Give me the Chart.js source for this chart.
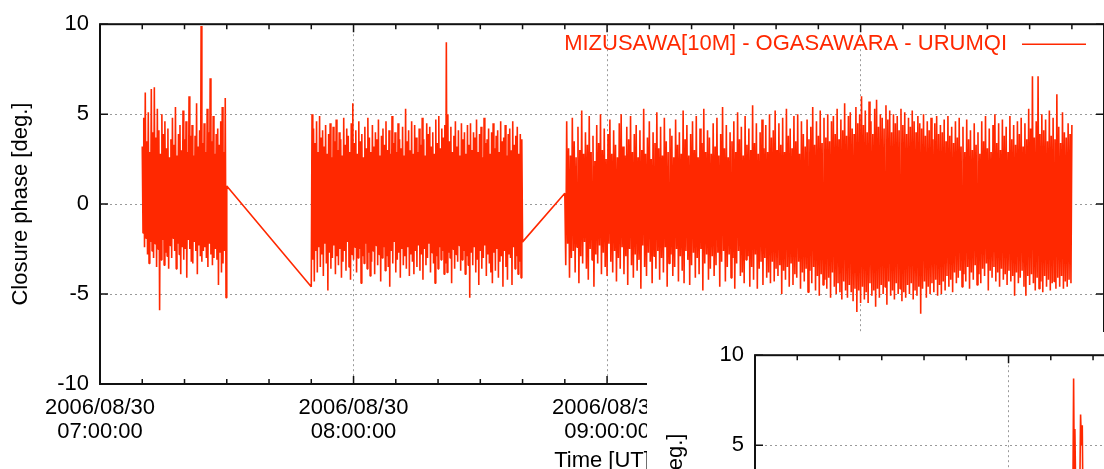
<!DOCTYPE html>
<html>
<head>
<meta charset="utf-8">
<script src="https://cdn.jsdelivr.net/npm/chart.js@4.4.1/dist/chart.umd.min.js"></script>
<style>
  html, body { margin: 0; padding: 0; background: #fff; }
  #wrap { position: relative; width: 1104px; height: 469px; overflow: hidden; }
  #inset { position: absolute; left: 647px; top: 332px; width: 457px; height: 137px; overflow: hidden; background: #fff; }
  #inset canvas { position: absolute; left: 8px; top: -1px; }
</style>
</head>
<body>
<div id="wrap">
  <canvas id="mainChart" width="1104" height="469"></canvas>
  <div id="inset"><canvas id="insetChart" width="1104" height="469"></canvas></div>
</div>
<script>
const seriesLabel = 'MIZUSAWA[10M] - OGASAWARA - URUMQI';
const dateLabel = '2006/08/30';
const hourLabels = ['07:00:00', '08:00:00', '09:00:00', '10:00:00'];
const yTicks = [-10, -5, 0, 5, 10];

// scans: [start, end] in minutes after 07:00 UT, phase samples evenly spaced in between
const scan1 = [10, 30];
const scan1Phase = [
  3.2, -1.6, 4.8, -2.4, 6.2, -1.9, 3.5, -2.8, 5.1, -3.3, 2.9, -2.1, 6.4, -2.6, 4.0, -3.0, 6.5, -2.2, 3.7, -3.5,
  5.3, -2.5, 4.1, -5.9, 2.8, -3.1, 5.0, -2.0, 3.9, -3.4, 4.6, -2.7, 3.1, -2.9, 4.2, -3.6, 2.6, -2.3, 3.6, -3.0,
  4.8, -1.9, 3.3, -2.6, 5.4, -3.6, 2.7, -2.2, 3.9, -2.8, 4.4, -3.9, 3.0, -2.4, 5.2, -3.1, 3.6, -2.5, 4.6, -4.1,
  2.9, -2.0, 6.0, -2.5, 3.8, -3.2, 4.4, -3.3, 2.7, -2.1, 3.8, -2.6, 5.6, -3.9, 3.2, -2.3, 4.1, -2.9, 9.9, -3.2,
  3.4, -2.6, 4.5, -2.4, 2.9, -3.0, 5.3, -3.5, 4.0, -2.2, 7.0, -2.8, 3.5, -3.4, 4.9, -3.0, 2.8, -2.5, 3.9, -3.1,
  4.2, -4.5, 3.3, -2.7, 4.6, -3.8, 5.4, -3.3, 2.9, -2.6, 5.9, -5.2, 1.0
];

const scan2 = [50, 100];
const scan2Phase = [
  -4.6, 5.0, -3.1, 4.2, -4.3, 3.4, -2.6, 4.6, -3.8, 2.9, -2.4, 4.9, -3.5, 3.7, -2.8, 4.1, -4.0, 3.2, -2.2, 4.4,
  -3.3, 2.8, -4.8, 3.9, -2.7, 4.5, -3.6, 2.6, -3.0, 4.3, -2.3, 3.5, -3.9, 4.7, -2.9, 3.0, -3.4, 4.0, -2.5, 3.6,
  -4.1, 2.7, -3.2, 4.8, -2.6, 3.3, -3.7, 4.2, -2.1, 3.8, -3.5, 2.9, -4.2, 4.5, -2.8, 5.6, -3.1, 3.4, -2.4, 4.1,
  -3.8, 2.8, -3.0, 4.6, -2.5, 3.5, -4.4, 3.9, -2.9, 2.6, -3.3, 4.3, -2.2, 3.1, -3.6, 4.8, -2.7, 3.7, -4.0, 2.9,
  -3.2, 4.4, -2.6, 3.2, -3.9, 4.0, -2.3, 3.6, -3.4, 4.7, -2.8, 2.7, -4.3, 3.8, -3.0, 4.2, -2.4, 3.3, -3.7, 4.6,
  -2.9, 3.0, -3.5, 4.1, -4.6, 2.8, -2.6, 4.9, -3.3, 3.4, -2.1, 4.0, -3.8, 2.9, -3.1, 4.5, -2.7, 3.6, -4.1, 3.1,
  -2.5, 4.3, -3.4, 2.7, -2.9, 5.3, -3.6, 3.5, -2.4, 4.1, -4.0, 3.0, -2.8, 4.6, -3.2, 2.8, -3.9, 4.4, -2.6, 3.7,
  -3.5, 2.9, -2.3, 4.2, -3.7, 3.3, -2.8, 4.8, -4.2, 3.6, -2.5, 2.7, -3.4, 4.5, -3.0, 3.9, -2.2, 4.3, -3.8, 3.2,
  -2.7, 4.0, -3.3, 2.8, -4.4, 4.7, -2.9, 3.4, -3.6, 4.9, -2.4, 3.1, -3.1, 4.2, -2.6, 3.7, -3.9, 4.4, -3.3, 9.0,
  -3.8, 5.0, -2.7, 3.5, -3.0, 4.3, -4.4, 2.9, -2.5, 3.8, -3.6, 4.6, -2.8, 3.2, -3.2, 4.1, -2.3, 2.7, -3.7, 4.5,
  -3.1, 3.6, -2.6, 4.0, -3.9, 2.8, -2.9, 4.4, -3.4, 3.3, -5.2, 4.5, -2.7, 3.0, -3.4, 4.0, -2.4, 3.7, -3.8, 4.7,
  -3.1, 2.9, -4.5, 3.9, -2.6, 4.3, -3.6, 2.6, -3.0, 4.8, -2.3, 3.4, -4.0, 3.6, -2.8, 4.2, -3.3, 2.8, -3.8, 4.0,
  -4.4, 4.5, -2.7, 3.1, -3.7, 3.8, -2.5, 4.1, -4.1, 2.9, -3.2, 4.6, -2.9, 3.5, -4.6, 3.7, -2.6, 4.4, -3.5, 2.7,
  -4.2, 3.9, -2.8, 4.2, -3.0, 3.0, -4.5, 4.6, -2.4, 3.3, -3.6, 3.8, -2.9, 4.3, -3.9, 2.8, -3.2, 3.9, -4.1, 3.6,
  -2.1
];

const scan3 = [110, 230];
const scan3Phase = [
  0.6, -3.4, 4.6, -2.2, 3.1, -4.1, 2.7, -3.0, 4.8, -2.6, 3.5, -3.8, 2.6, -2.4, 4.3, -4.4, 3.0, -2.9, 5.2, -3.3,
  2.8, -2.1, 4.0, -3.6, 3.3, -4.2, 4.9, -2.5, 2.9, -3.1, 3.8, -4.6, 2.4, -2.8, 4.4, -3.3, 3.4, -2.3, 5.0, -3.9,
  3.0, -2.7, 4.2, -3.5, 2.5, -4.0, 3.9, -2.2, 4.7, -3.2, 2.8, -3.8, 4.1, -2.6, 3.3, -4.3, 2.6, -3.0, 4.5, -3.6,
  5.0, -2.4, 3.2, -3.9, 2.7, -2.9, 4.3, -4.5, 3.6, -2.5, 4.9, -3.4, 2.9, -4.1, 3.9, -2.8, 4.4, -3.7, 2.6, -3.1,
  4.1, -4.7, 3.0, -2.3, 5.3, -3.5, 2.8, -4.0, 3.7, -2.7, 4.6, -3.2, 2.5, -4.4, 4.0, -2.9, 3.4, -3.6, 5.1, -2.6,
  3.1, -4.2, 4.3, -3.0, 2.7, -3.8, 4.8, -2.4, 3.5, -4.6, 2.9, -3.3, 4.2, -2.8, 3.8, -4.0, 2.6, -3.5, 4.7, -2.5,
  3.3, -4.3, 4.0, -2.9, 2.8, -3.7, 5.2, -4.4, 3.6, -2.6, 4.4, -3.1, 2.7, -4.5, 3.9, -3.4, 4.6, -2.7, 3.0, -4.1,
  4.9, -3.0, 2.6, -3.9, 4.2, -2.5, 3.4, -4.8, 5.3, -3.3, 2.9, -2.8, 4.1, -4.2, 3.7, -3.6, 2.8, -2.9, 4.5, -4.0,
  3.2, -3.4, 4.8, -2.7, 2.7, -4.6, 3.9, -3.2, 5.4, -2.6, 3.1, -4.3, 4.4, -3.5, 2.6, -2.8, 4.0, -4.1, 3.5, -3.0,
  4.6, -4.7, 2.9, -3.3, 5.1, -2.6, 3.6, -4.0, 4.3, -3.8, 2.7, -4.4, 4.9, -3.1, 3.3, -2.9, 4.2, -4.6, 3.0, -3.5,
  5.5, -4.2, 3.4, -2.8, 4.5, -4.7, 2.8, -3.6, 4.0, -3.2, 4.7, -4.5, 3.1, -3.0, 4.4, -4.1, 2.9, -3.8, 5.0, -4.4,
  3.7, -3.2, 4.1, -4.3, 5.2, -3.6, 3.0, -4.0, 4.5, -3.4, 3.3, -5.0, 4.8, -3.7, 2.9, -4.2, 5.3, -3.5, 3.8, -4.6,
  4.2, -3.3, 3.1, -4.5, 4.9, -3.9, 3.5, -4.1, 5.0, -3.2, 2.8, -4.7, 4.6, -3.8, 3.9, -4.3, 3.2, -3.6, 4.7, -4.9,
  3.6, -3.7, 4.3, -4.4, 5.4, -3.5, 3.3, -4.8, 4.6, -4.0, 3.8, -5.1, 5.2, -3.9, 3.4, -4.5, 4.8, -4.2, 3.7, -4.7,
  5.0, -4.1, 3.5, -5.2, 4.6, -3.8, 4.9, -4.6, 3.9, -5.0, 5.3, -4.4, 3.6, -4.9, 4.7, -5.3, 4.1, -4.3, 5.6, -4.8,
  3.8, -5.2, 4.9, -4.5, 5.1, -4.9, 4.2, -5.4, 3.9, -4.7, 5.4, -6.0, 4.5, -4.8, 5.0, -5.5, 6.0, -4.6, 4.4, -5.3,
  5.2, -4.9, 4.0, -5.5, 5.7, -4.4, 4.6, -5.1, 3.9, -4.8, 5.3, -5.7, 5.8, -4.7, 4.3, -5.2, 5.0, -4.5, 4.8, -5.0,
  4.2, -4.6, 5.5, -5.6, 4.7, -4.3, 5.2, -5.1, 4.0, -4.8, 5.0, -5.3, 4.5, -4.4, 4.9, -5.0, 4.1, -4.7, 5.3, -5.4,
  4.4, -4.9, 5.1, -5.2, 3.9, -4.5, 4.8, -5.0, 4.3, -4.4, 5.2, -5.3, 4.6, -4.8, 4.0, -5.1, 4.9, -4.6, 4.5, -6.1,
  4.2, -4.7, 5.0, -4.3, 3.8, -5.2, 4.6, -4.6, 4.1, -5.0, 4.8, -4.4, 3.6, -4.9, 4.5, -4.2, 4.9, -5.1, 3.9, -4.5,
  4.4, -5.0, 4.0, -4.3, 4.7, -4.8, 3.5, -4.0, 4.9, -4.6, 3.8, -4.2, 4.3, -4.9, 3.4, -3.8, 4.6, -4.4, 3.7, -4.1,
  4.8, -3.7, 3.2, -4.6, 4.3, -3.9, 2.9, -4.3, 4.7, -3.5, 3.6, -4.7, 4.1, -3.8, 3.0, -4.2, 4.5, -3.4, 3.3, -4.5,
  4.0, -3.9, 2.8, -4.4, 4.6, -3.6, 3.5, -4.0, 4.9, -3.3, 3.1, -4.8, 4.2, -3.7, 2.9, -4.1, 4.4, -3.5, 5.0, -4.3,
  3.4, -3.8, 4.5, -4.6, 3.0, -3.6, 4.7, -4.2, 3.8, -3.9, 4.3, -4.5, 2.9, -3.7, 4.9, -4.3, 3.6, -4.0, 4.4, -5.1,
  3.3, -3.8, 4.6, -4.4, 3.9, -4.1, 4.8, -3.7, 3.2, -4.6, 4.5, -5.1, 3.6, -4.0, 5.3, -4.5, 4.2, -3.9, 7.1, -4.4,
  3.7, -4.8, 4.6, -4.1, 7.1, -4.7, 3.9, -4.3, 5.0, -4.9, 4.1, -4.0, 4.7, -4.6, 3.5, -4.2, 5.2, -4.8, 3.8, -4.4,
  4.8, -4.3, 3.6, -4.7, 6.1, -4.1, 4.3, -4.6, 3.4, -4.0, 5.1, -4.7, 4.0, -4.3, 3.7, -4.6, 4.5, -4.2, 3.9, -4.4,
  4.4
];

// the second plot peeking in at the lower right corner
const insetTimes = [75.2, 75.4, 75.55, 75.7, 75.85, 76.9, 77.05, 77.25, 77.45, 77.65];
const insetPhase = [1.0, 8.7, 3.3, 5.9, 3.3, 3.3, 6.7, 5.0, 6.1, 0.5];

const red = 'rgb(255, 40, 0)';
const gridGray = '#9a9a9a';
const fontFamily = '"Liberation Sans", Arial, sans-serif';

Chart.defaults.font.family = fontFamily;
Chart.defaults.font.size = 22;
Chart.defaults.color = '#000';

function scanPoints(range, phase) {
  const step = (range[1] - range[0]) / (phase.length - 1);
  return phase.map((p, i) => ({x: range[0] + i * step, y: p}));
}

const mainPoints = [].concat(
  scanPoints(scan1, scan1Phase),
  scanPoints(scan2, scan2Phase),
  scanPoints(scan3, scan3Phase)
);
const insetPoints = insetTimes.map((t, i) => ({x: t, y: insetPhase[i]}));

// gnuplot style border, inward ticks and key
const gnuplotFrame = {
  id: 'gnuplotFrame',
  afterDatasetsDraw(chart, args, opts) {
    const {ctx, chartArea: a, scales: {x, y}} = chart;
    ctx.save();
    ctx.strokeStyle = '#111';
    ctx.lineWidth = 1.5;
    ctx.beginPath();
    x.ticks.forEach(t => {
      const px = x.getPixelForValue(t.value);
      const len = t.value % 60 === 0 ? 8 : 5;
      ctx.moveTo(px, a.bottom);
      ctx.lineTo(px, a.bottom - len);
      ctx.moveTo(px, a.top);
      ctx.lineTo(px, a.top + len);
    });
    y.ticks.forEach(t => {
      const py = y.getPixelForValue(t.value);
      ctx.moveTo(a.left, py);
      ctx.lineTo(a.left + 8, py);
      ctx.moveTo(a.right, py);
      ctx.lineTo(a.right - 8, py);
    });
    ctx.stroke();
    ctx.lineWidth = 2;
    ctx.strokeRect(a.left, a.top, a.right - a.left, a.bottom - a.top);

    if (opts.key) {
      const ds = chart.data.datasets[0];
      const ky = a.top + 20;
      ctx.fillStyle = ds.borderColor;
      ctx.font = '22px ' + fontFamily;
      ctx.textAlign = 'right';
      ctx.textBaseline = 'middle';
      ctx.fillText(ds.label, a.right - 97, ky);
      ctx.strokeStyle = ds.borderColor;
      ctx.lineWidth = 1.5;
      ctx.beginPath();
      ctx.moveTo(a.right - 82, ky);
      ctx.lineTo(a.right - 18, ky);
      ctx.stroke();
    }
    ctx.restore();
  }
};

function makeChart(canvas, points, showKey) {
  return new Chart(canvas, {
    type: 'line',
    data: {
      datasets: [{
        label: seriesLabel,
        data: points,
        borderColor: red,
        borderWidth: 1.6,
        borderJoinStyle: 'bevel',
        pointRadius: 0,
        tension: 0,
        fill: false
      }]
    },
    options: {
      responsive: false,
      animation: false,
      events: [],
      layout: {padding: {top: 17, right: 0, bottom: 0, left: 0}},
      plugins: {
        legend: {display: false},
        tooltip: {enabled: false},
        gnuplotFrame: {key: showKey}
      },
      scales: {
        x: {
          type: 'linear',
          min: 0,
          max: 237.6,
          afterFit: s => { s.height = 85; },
          ticks: {
            stepSize: 10,
            autoSkip: false,
            maxRotation: 0,
            includeBounds: false,
            padding: 12,
            font: {size: 22, lineHeight: 24 / 22},
            callback: v => v % 60 === 0 ? [dateLabel, hourLabels[v / 60]] : ''
          },
          grid: {
            drawTicks: false,
            lineWidth: 1,
            color: c => (c.tick && c.tick.value % 60 === 0) ? gridGray : 'rgba(0,0,0,0)'
          },
          border: {display: false, dash: [2, 3]},
          title: {display: true, text: 'Time [UT]', font: {size: 22, lineHeight: 0.7}, padding: 0}
        },
        y: {
          type: 'linear',
          min: -10,
          max: 10,
          afterFit: s => { s.width = 100; },
          afterBuildTicks: s => { s.ticks = yTicks.map(v => ({value: v})); },
          ticks: {padding: 11, font: {size: 22}},
          grid: {drawTicks: false, lineWidth: 1, color: gridGray},
          border: {display: false, dash: [2, 3]},
          title: {display: true, text: 'Closure phase [deg.]', font: {size: 22}, padding: {top: 8, bottom: 0}}
        }
      }
    },
    plugins: [gnuplotFrame]
  });
}

const mainChart = makeChart(document.getElementById('mainChart'), mainPoints, true);
const insetChart = makeChart(document.getElementById('insetChart'), insetPoints, false);
</script>
</body>
</html>
